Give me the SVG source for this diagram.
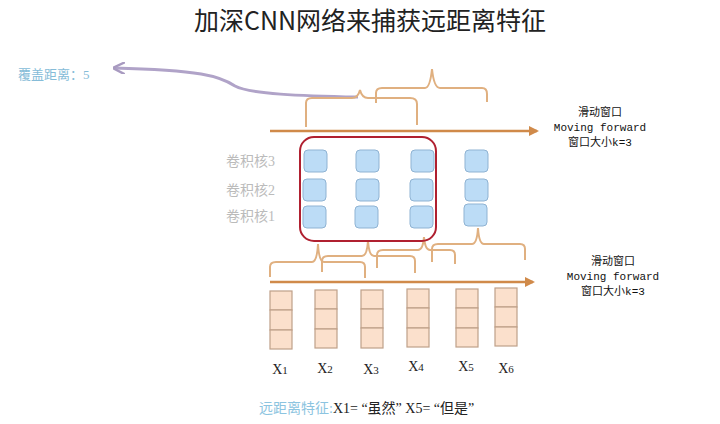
<svg xmlns="http://www.w3.org/2000/svg" width="720" height="424" viewBox="0 0 720 424">
<defs>
<style>
.br{fill:none;stroke:#e0b080;stroke-width:2}
.ar{stroke:#d08a4a;stroke-width:2.5}
.k{fill:#bcdcf6;stroke:#8fb3d3;stroke-width:1}
.c{fill:#fbe0cc;stroke:#bfa089;stroke-width:1.2}
.lbl{font-family:"Liberation Serif","Noto Sans CJK SC",serif;font-size:14px;fill:#bbbbbb}
.side{font-family:"Liberation Mono","Noto Sans CJK SC",monospace;font-size:11px;fill:#111;text-anchor:middle}
.x{font-family:"Liberation Serif",serif;font-size:14px;fill:#222;text-anchor:middle}
</style>
<marker id="ah" viewBox="0 0 10 10" refX="8" refY="5" markerWidth="4" markerHeight="4" orient="auto"><path d="M0,0L10,5L0,10z" fill="#d08a4a"/></marker>
<marker id="pa" viewBox="0 0 10 10" refX="9" refY="5" markerWidth="4" markerHeight="4" orient="auto"><path d="M0,0L10,5L0,10" fill="none" stroke="#a89ac0" stroke-width="2"/></marker>
</defs>
<rect width="720" height="424" fill="#fff"/>
<text x="370" y="30" text-anchor="middle" font-family="Noto Sans CJK SC,sans-serif" font-size="25" fill="#222">加深CNN网络来捕获远距离特征</text>
<text x="18" y="79" font-family="Liberation Serif,Noto Sans CJK SC,serif" font-size="13" fill="#86bcd8">覆盖距离：5</text>
<g id="connectors">
<path d="M358,97 C300,96 250,94 235,86 C220,76 200,70 114,68" fill="none" stroke="#b0a3c8" stroke-width="3" marker-end="url(#pa)"/>
<line class="ar" x1="270" y1="131" x2="537" y2="131" marker-end="url(#ah)"/>
<line class="ar" x1="270" y1="282" x2="533" y2="282" marker-end="url(#ah)"/>
<path class="br" d="M306,127 V103 Q306,98 312,98 H352 Q358,98 360,90 Q362,98 368,98 H410 Q417,98 417,104 V125"/>
<path class="br" d="M376,103 V93 Q376,88 382,88 H425 Q430,88 432,69 Q434,88 440,88 H482 Q487,88 487,94 V102"/>
<path class="br" d="M270,277 V267 Q270,262 276,262 H312 Q317,262 318,244 Q319,262 324,262 H360 Q365,262 365,267 V278"/>
<path class="br" d="M322,272 V261 Q322,256 328,256 H362 Q367,256 368,241 Q369,256 374,256 H410 Q415,256 415,261 V273"/>
<path class="br" d="M377,268 V255 Q377,250 383,250 H418 Q423,250 424,237 Q425,250 430,250 H450 Q455,250 455,255 V264"/>
<path class="br" d="M432,262 V249 Q432,244 438,244 H472 Q477,244 478,228 Q479,244 484,244 H520 Q525,244 525,249 V260"/>
</g>
<g id="sliding-top">
<text class="side" x="600" y="116">滑动窗口</text>
<text class="side" x="600" y="131">Moving forward</text>
<text class="side" x="600" y="146">窗口大小k=3</text>
</g>
<g id="sliding-bottom">
<text class="side" x="613" y="265">滑动窗口</text>
<text class="side" x="613" y="280">Moving forward</text>
<text class="side" x="613" y="295">窗口大小k=3</text>
</g>
<g id="kernels">
<text class="lbl" x="226" y="166">卷积核3</text>
<text class="lbl" x="226" y="195">卷积核2</text>
<text class="lbl" x="226" y="221">卷积核1</text>
<rect class="k" x="304" y="150" width="23" height="22" rx="4"/><rect class="k" x="356" y="150" width="23" height="22" rx="4"/><rect class="k" x="411" y="150" width="23" height="22" rx="4"/><rect class="k" x="465" y="150" width="23" height="22" rx="4"/>
<rect class="k" x="303" y="179" width="23" height="22" rx="4"/><rect class="k" x="356" y="179" width="23" height="22" rx="4"/><rect class="k" x="410" y="179" width="23" height="22" rx="4"/><rect class="k" x="465" y="179" width="23" height="22" rx="4"/>
<rect class="k" x="303" y="206" width="23" height="22" rx="4"/><rect class="k" x="355" y="206" width="23" height="22" rx="4"/><rect class="k" x="410" y="206" width="23" height="22" rx="4"/><rect class="k" x="464" y="204" width="23" height="22" rx="4"/>
</g>
<rect id="window" x="300" y="137" width="136" height="104" rx="14" fill="none" stroke="#b02030" stroke-width="2"/>
<g id="inputs">
<g class="c"><rect x="270" y="291" width="22" height="19"/><rect x="270" y="310" width="22" height="20"/><rect x="270" y="330" width="22" height="19"/></g>
<g class="c"><rect x="315" y="290" width="22" height="19"/><rect x="315" y="309" width="22" height="20"/><rect x="315" y="329" width="22" height="19"/></g>
<g class="c"><rect x="361" y="290" width="22" height="19"/><rect x="361" y="309" width="22" height="19"/><rect x="361" y="328" width="22" height="20"/></g>
<g class="c"><rect x="407" y="289" width="22" height="19"/><rect x="407" y="308" width="22" height="20"/><rect x="407" y="328" width="22" height="19"/></g>
<g class="c"><rect x="456" y="289" width="22" height="19"/><rect x="456" y="308" width="22" height="20"/><rect x="456" y="328" width="22" height="19"/></g>
<g class="c"><rect x="495" y="288" width="22" height="19"/><rect x="495" y="307" width="22" height="20"/><rect x="495" y="327" width="22" height="19"/></g>
<text class="x" x="280" y="374">X<tspan font-size="11">1</tspan></text>
<text class="x" x="325" y="373">X<tspan font-size="11">2</tspan></text>
<text class="x" x="371" y="374">X<tspan font-size="11">3</tspan></text>
<text class="x" x="416" y="371">X<tspan font-size="11">4</tspan></text>
<text class="x" x="466" y="371">X<tspan font-size="11">5</tspan></text>
<text class="x" x="506" y="373">X<tspan font-size="11">6</tspan></text>
</g>
<text x="259" y="413" font-family="Liberation Serif,Noto Sans CJK SC,serif" font-size="14" fill="#222"><tspan fill="#8cc4e0">远距离特征:</tspan>X1= “虽然” X5= “但是”</text>
</svg>
